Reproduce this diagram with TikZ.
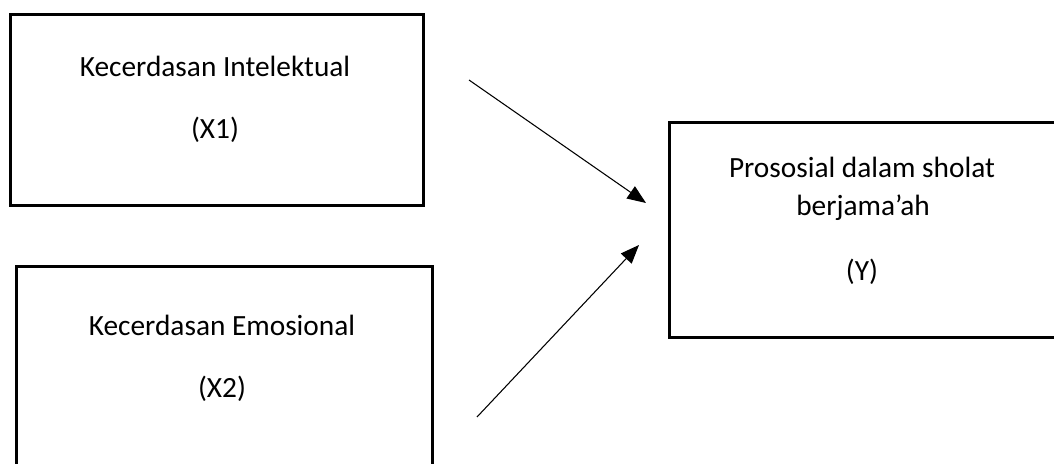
\documentclass[tikz,border=0pt]{standalone}
\usepackage{fontspec}
\setmainfont{Carlito}
\usetikzlibrary{arrows.meta}
\begin{document}
\begin{tikzpicture}[x=0.75pt,y=-0.75pt,
  boxstyle/.style={draw=black,line width=2pt,inner sep=0pt,anchor=north west},
  label/.style={font=\fontsize{22}{26}\selectfont,inner sep=0pt,anchor=base},
  arrowline/.style={line width=0.8pt,-{Triangle[length=14pt,width=11pt]}}]
\useasboundingbox (0,0) rectangle (1054,464);
\clip (0,0) rectangle (1054,464);
% boxes
\node[boxstyle,minimum width=413*0.75pt,minimum height=191*0.75pt] (x1) at (9,13) {};
\node[boxstyle,minimum width=416*0.75pt,minimum height=215*0.75pt] (x2) at (15,265) {};
\node[boxstyle,minimum width=420*0.75pt,minimum height=215*0.75pt] (y) at (668,121) {};
% texts
\node[label] (x1a) at (215,76) {Kecerdasan Intelektual};
\node[label] (x1b) at (215,138) {(X1)};
\node[label] (x2a) at (222,335) {Kecerdasan Emosional};
\node[label] (x2b) at (222,397) {(X2)};
\node[label] (ya) at (862,177) {Prososial dalam sholat};
\node[label] (yb) at (863,215) {berjama’ah};
\node[label] (yc) at (862,280) {(Y)};
% arrows
\coordinate (a1s) at (469,80);
\coordinate (a1e) at (646,203);
\coordinate (a2s) at (477,417);
\coordinate (a2e) at (639,245);
\draw[arrowline] (a1s) -- (a1e);
\draw[arrowline] (a2s) -- (a2e);
\end{tikzpicture}
\end{document}
